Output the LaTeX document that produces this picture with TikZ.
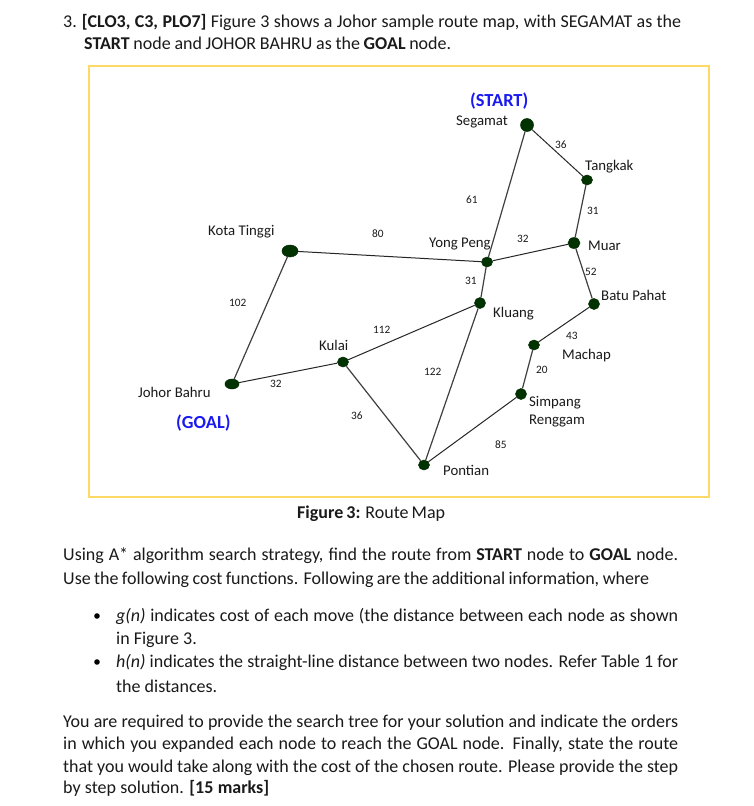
\documentclass[tikz,border=0pt]{standalone}
\usepackage{fontspec}
\setmainfont{Carlito}
\usetikzlibrary{shapes.geometric}
\definecolor{nodegreen}{HTML}{003300}
\definecolor{framegold}{HTML}{FFD966}
\definecolor{edgegrey}{HTML}{404040}
\definecolor{inktext}{HTML}{1A1A1A}
\definecolor{flagblue}{HTML}{1A1AF0}
\tikzset{
  x=1pt,y=-1pt,
  city/.style={ellipse,fill=nodegreen,draw=nodegreen!80!black,line width=0.5pt,inner sep=0pt,minimum width=11pt,minimum height=10pt},
  road/.style={draw=edgegrey,line width=1.2pt},
  roadthin/.style={draw=black!85,line width=1pt},
  place/.style={font=\fontsize{14.8}{16}\selectfont,text=inktext,inner sep=0pt,anchor=base west},
  cost/.style={font=\fontsize{11.3}{13}\selectfont,text=inktext,inner sep=0pt,anchor=base west},
  flag/.style={font=\fontsize{18.4}{20}\selectfont\bfseries,text=flagblue,inner sep=0pt,anchor=base west},
  body/.style={font=\fontsize{18}{20}\selectfont,text=inktext,inner sep=0pt,anchor=base west},
}
\newcommand{\jline}[2]{\hbox to #1pt{#2}}
\begin{document}
\begin{tikzpicture}
\useasboundingbox (0,0) rectangle (754,806);
\fill[white] (0,0) rectangle (754,806);
\node[body] (q1) at (63,27) {\jline{618}{3.\hspace{5pt}\textbf{[CLO3, C3, PLO7]} Figure 3 shows a Johor sample route map, with SEGAMAT as the}};
\node[body] (q2) at (84,49) {\jline{367}{\textbf{START} node and JOHOR BAHRU as the \textbf{GOAL} node.}};
\draw[framegold,line width=1.2pt] (89,66) rectangle (709,497);
% cities
\node[city,minimum width=13pt,minimum height=13pt] (seg) at (527,125) {};
\node[city,minimum width=11pt,minimum height=10pt] (tan) at (587,180) {};
\node[city,minimum width=12pt,minimum height=11pt] (mua) at (574,243) {};
\node[city,minimum width=11pt,minimum height=10pt] (yon) at (487,262) {};
\node[city,minimum width=11pt,minimum height=11pt] (klu) at (480,303) {};
\node[city,minimum width=11pt,minimum height=11pt] (bat) at (594,304) {};
\node[city,minimum width=11pt,minimum height=10pt] (mac) at (534,345) {};
\node[city,minimum width=11pt,minimum height=11pt] (sim) at (521,394) {};
\node[city,minimum width=11pt,minimum height=10pt] (pon) at (424,465) {};
\node[city,minimum width=11pt,minimum height=10pt] (kul) at (343,362) {};
\node[city,minimum width=14pt,minimum height=10pt] (joh) at (232,384) {};
\node[city,minimum width=16pt,minimum height=12pt] (kot) at (290,251) {};
% roads
\draw[road] (seg) -- (yon);
\draw[roadthin] (seg) -- (tan);
\draw[road] (tan) -- (mua);
\draw[roadthin] (mua) -- (yon);
\draw[road] (mua) -- (bat);
\draw[roadthin] (yon) -- (kot);
\draw[road] (yon) -- (klu);
\draw[road] (kot) -- (joh);
\draw[roadthin] (klu) -- (kul);
\draw[road] (klu) -- (pon);
\draw[roadthin] (kul) -- (joh);
\draw[road] (kul) -- (pon);
\draw[roadthin] (bat) -- (mac);
\draw[road] (mac) -- (sim);
\draw[roadthin] (sim) -- (pon);
% labels
\node[flag] (fstart) at (470,106.5) {(START)};
\node[flag] (fgoal) at (176,428) {(GOAL)};
\node[place] (lseg) at (456,125) {Segamat};
\node[place] (ltan) at (585,170) {Tangkak};
\node[place] (lmua) at (588,250) {Muar};
\node[place] (lyon) at (429,247) {Yong Peng};
\node[place] (lkot) at (208,235) {Kota Tinggi};
\node[place] (lbat) at (601,300.5) {Batu Pahat};
\node[place] (lklu) at (493,317) {Kluang};
\node[place] (lkul) at (319,350) {Kulai};
\node[place] (lmac) at (562,359) {Machap};
\node[place] (ljoh) at (138,397.5) {Johor Bahru};
\node[place] (lsi1) at (529,406) {Simpang};
\node[place] (lsi2) at (529,424.5) {Renggam};
\node[place] (lpon) at (443,475) {Pontian};
\node[cost] (c36a) at (555,148) {36};
\node[cost] (c61) at (466,203) {61};
\node[cost] (c31a) at (587,214) {31};
\node[cost] (c80) at (372,237) {80};
\node[cost] (c32a) at (517,242) {32};
\node[cost] (c52) at (585,275) {52};
\node[cost] (c31b) at (465,284) {31};
\node[cost] (c102) at (229,306) {102};
\node[cost] (c112) at (373,333) {112};
\node[cost] (c43) at (566,339) {43};
\node[cost] (c20) at (536,373) {20};
\node[cost] (c122) at (424,375) {122};
\node[cost] (c32b) at (270,387) {32};
\node[cost] (c36b) at (351,419) {36};
\node[cost] (c85) at (495,448) {85};
% caption and text
\node[body] (cap) at (297,518) {\jline{148}{\textbf{Figure 3:} Route Map}};
\node[body] (p1) at (63,560) {\jline{615}{Using A* algorithm search strategy, find the route from \textbf{START} node to \textbf{GOAL} node.}};
\node[body] (p2) at (63,584) {\jline{586}{Use the following cost functions. Following are the additional information, where}};
\fill[black] (97,616) circle (2.8pt) (97,662) circle (2.8pt);
\node[body] (b1) at (116,621) {\jline{562}{\textit{g(n)} indicates cost of each move (the distance between each node as shown}};
\node[body] (b2) at (116,644) {in Figure 3.};
\node[body] (b3) at (116,667) {\jline{562}{\textit{h(n)} indicates the straight-line distance between two nodes. Refer Table 1 for}};
\node[body] (b4) at (116,692) {the distances.};
\node[body] (r1) at (63,727) {\jline{615}{You are required to provide the search tree for your solution and indicate the orders}};
\node[body] (r2) at (63,749) {\jline{615}{in which you expanded each node to reach the GOAL node. Finally, state the route}};
\node[body] (r3) at (63,772) {\jline{615}{that you would take along with the cost of the chosen route. Please provide the step}};
\node[body] (r4) at (63,793) {\jline{206}{by step solution.\hspace{5pt plus 3pt}\textbf{[15 marks]}}};
\end{tikzpicture}
\end{document}
